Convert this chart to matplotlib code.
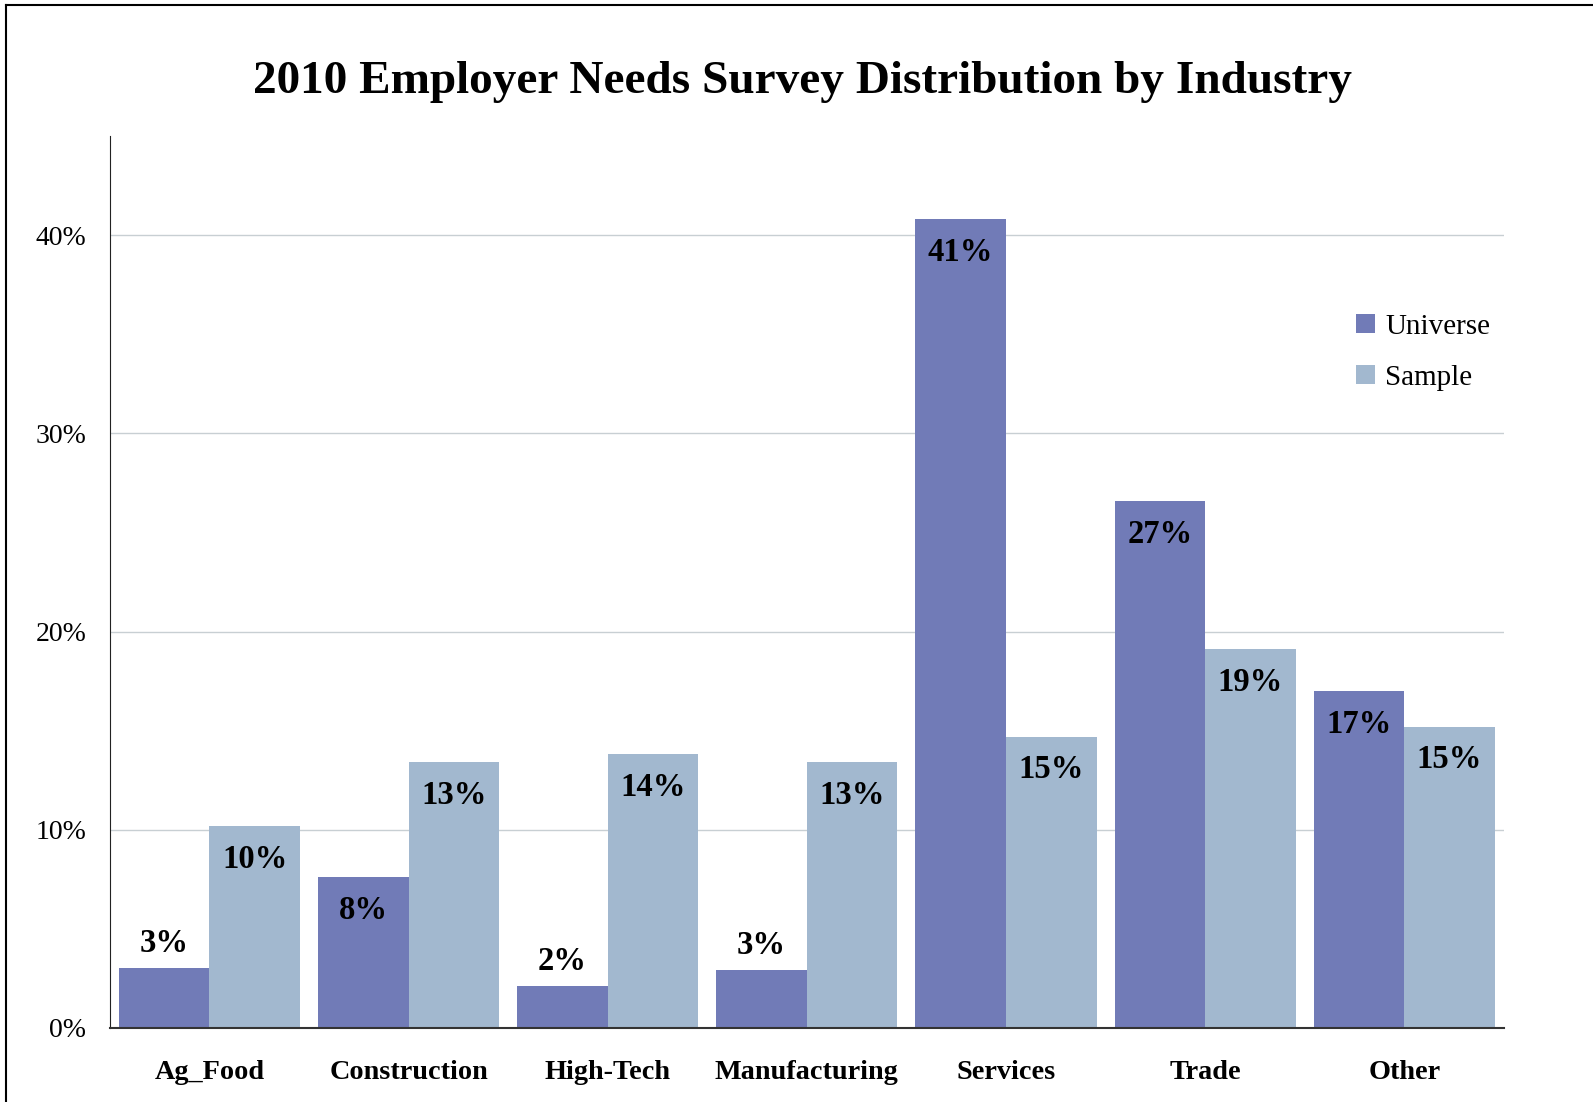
import matplotlib.pyplot as plt
import numpy as np
from matplotlib.lines import Line2D
from matplotlib.ticker import FuncFormatter

plt.rcParams['font.family'] = ['Liberation Serif', 'DejaVu Serif']

CATEGORIES = ['Ag_Food', 'Construction', 'High-Tech', 'Manufacturing',
              'Services', 'Trade', 'Other']
UNIVERSE = [3.0, 7.6, 2.1, 2.9, 40.8, 26.6, 17.0]
SAMPLE = [10.2, 13.4, 13.8, 13.4, 14.7, 19.1, 15.2]
SERIES = ['Universe', 'Sample']
COLORS = ['#717bb7', '#a2b8cf']
YTICKS = [0, 10, 20, 30, 40]

fig = plt.figure(figsize=(15.93, 11.02), dpi=100)
ax = fig.add_axes([0.069, 0.0672, 0.875, 0.8094])

x = np.arange(len(CATEGORIES))
w = 0.455
for i, (vals, name, col) in enumerate(zip([UNIVERSE, SAMPLE], SERIES, COLORS)):
    pos = x + (i - 0.5) * w
    ax.bar(pos, vals, w, color=col, label=name, zorder=2)
    for xp, v in zip(pos, vals):
        # small bars get the label above, others inside near the top
        off = 18 if v < 5 else -24
        ax.annotate(f'{v:.0f}%', (xp, v), xytext=(0, off), textcoords='offset points',
                    ha='center', va='center', fontsize=23.5, fontweight='bold')

ax.set_xlim(-0.5, len(CATEGORIES) - 0.5)
ax.set_ylim(0, 45)
ax.set_yticks(YTICKS)
ax.yaxis.set_major_formatter(FuncFormatter(lambda v, p: f'{v:.0f}%'))
ax.set_xticks(x)
ax.set_xticklabels(CATEGORIES, fontsize=20.3, fontweight='bold')
ax.tick_params(axis='x', length=0, pad=23)
ax.tick_params(axis='y', length=0, pad=17, labelsize=20)
ax.grid(axis='y', color='#c8cfd3', linewidth=1, zorder=0)
ax.set_axisbelow(True)
for s in ['top', 'right']:
    ax.spines[s].set_visible(False)
ax.spines['left'].set_color('#222222')
ax.spines['bottom'].set_color('#333333')
ax.spines['bottom'].set_linewidth(1.5)

ax.legend(loc='upper left', bbox_to_anchor=(0.875, 0.83), frameon=False,
          fontsize=21, handlelength=0.65, handleheight=0.65, handletextpad=0.35,
          labelspacing=0.85)

fig.text(0.504, 0.926, '2010 Employer Needs Survey Distribution by Industry',
         ha='center', va='center', fontsize=34, fontweight='bold')

# outer frame (top and left edges visible)
fig.add_artist(Line2D([0.0038, 1.0], [0.9955, 0.9955], color='black', lw=1.5,
                      transform=fig.transFigure))
fig.add_artist(Line2D([0.0038, 0.0038], [0.0, 0.9955], color='black', lw=1.5,
                      transform=fig.transFigure))

fig.savefig('out.png', dpi=100)
